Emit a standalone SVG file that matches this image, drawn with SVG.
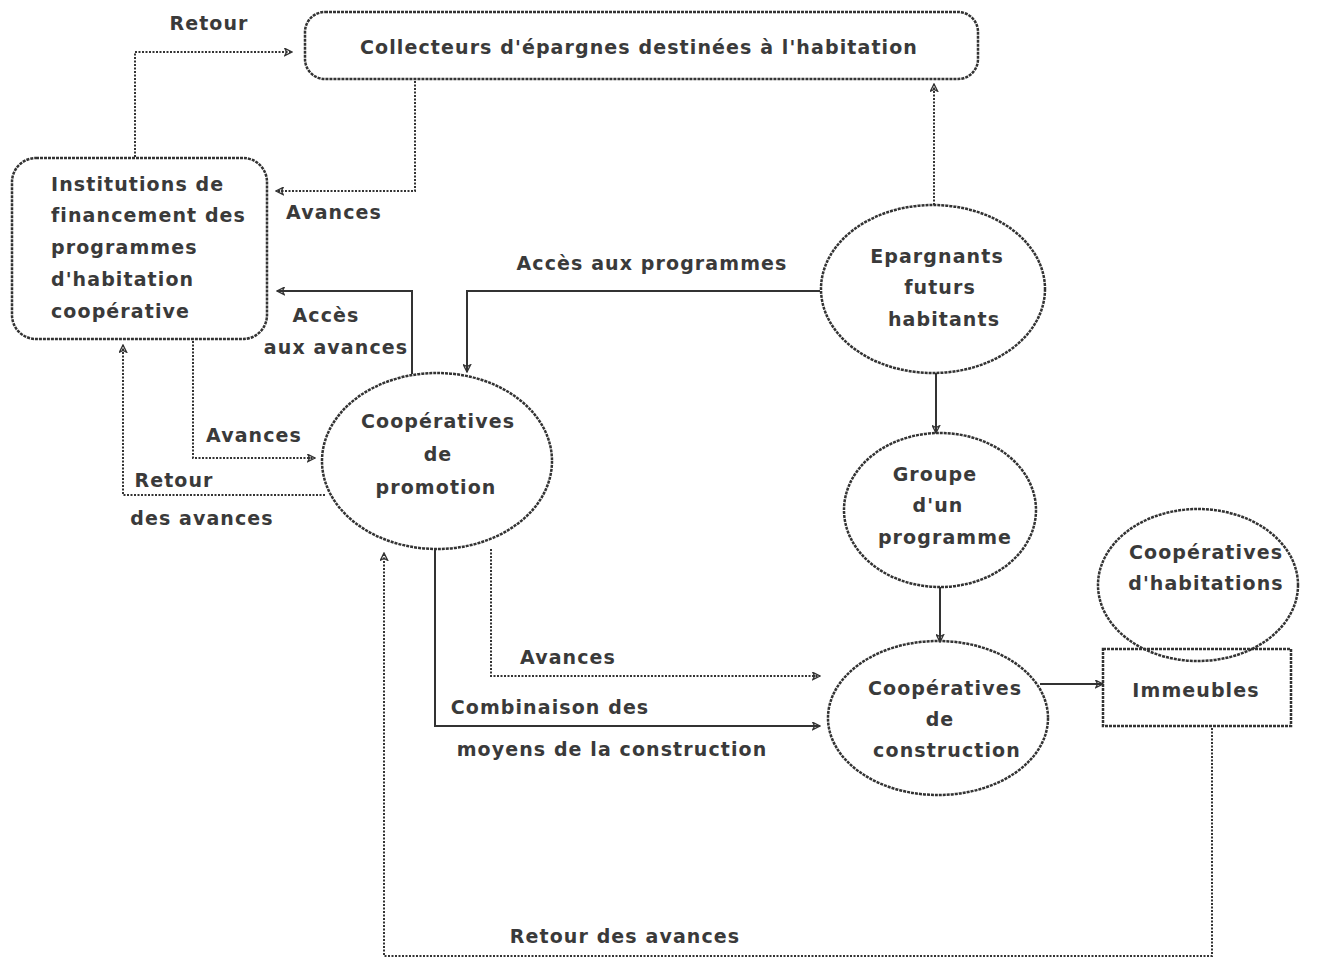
<svg xmlns="http://www.w3.org/2000/svg" width="1321" height="962" viewBox="0 0 1321 962">
<defs>
<style>
.node{fill:none;stroke:#333;stroke-width:2.5;stroke-dasharray:3 1}
.t{font-family:"DejaVu Sans","Liberation Sans",sans-serif;font-size:19px;font-weight:bold;letter-spacing:1.1px;fill:#3a3a3a;text-anchor:middle}
.tl{text-anchor:start}
.dot{fill:none;stroke:#333;stroke-width:2;stroke-dasharray:2 1.5}
.sol{fill:none;stroke:#333;stroke-width:2}
</style>
<marker id="ah" viewBox="0 0 10 10" refX="9" refY="5" markerWidth="9" markerHeight="9" markerUnits="userSpaceOnUse" orient="auto">
<path d="M1,1 L9,5 L1,9 L3,5 Z" fill="none" stroke="#333" stroke-width="1.5"/>
</marker>
</defs>
<rect width="1321" height="962" fill="#fff"/>

<g id="connectors">
<path class="dot" d="M135,157 V52 H292" marker-end="url(#ah)"/>
<path class="dot" d="M415,81 V191 H276" marker-end="url(#ah)"/>
<path class="sol" d="M412,374 V291 H277" marker-end="url(#ah)"/>
<path class="sol" d="M820,291 H467 V372" marker-end="url(#ah)"/>
<path class="dot" d="M193,341 V458 H315" marker-end="url(#ah)"/>
<path class="dot" d="M325,495 H123 V345" marker-end="url(#ah)"/>
<path class="dot" d="M934,205 V84" marker-end="url(#ah)"/>
<path class="sol" d="M936,373 V433" marker-end="url(#ah)"/>
<path class="sol" d="M940,587 V642" marker-end="url(#ah)"/>
<path class="sol" d="M435,550 V726 H820" marker-end="url(#ah)"/>
<path class="dot" d="M491,549 V676 H820" marker-end="url(#ah)"/>
<path class="sol" d="M1040,684 H1103" marker-end="url(#ah)"/>
<path class="dot" d="M1212,728 V956 H384 V553" marker-end="url(#ah)"/>
</g>

<g id="labels">
<text class="t" x="209" y="30">Retour</text>
<text class="t" x="334" y="219">Avances</text>
<text class="t" x="652" y="270">Accès aux programmes</text>
<text class="t" x="326" y="322">Accès</text>
<text class="t" x="336" y="354">aux avances</text>
<text class="t" x="254" y="442">Avances</text>
<text class="t" x="174" y="487">Retour</text>
<text class="t" x="202" y="525">des avances</text>
<text class="t" x="568" y="664">Avances</text>
<text class="t" x="550" y="714">Combinaison des</text>
<text class="t" x="612" y="756">moyens de la construction</text>
<text class="t" x="625" y="943">Retour des avances</text>
</g>

<g id="collecteurs">
<rect class="node" x="305" y="12" width="673" height="67" rx="20"/>
<text class="t" x="639" y="54" textLength="558" lengthAdjust="spacingAndGlyphs">Collecteurs d'épargnes destinées à l'habitation</text>
</g>

<g id="institutions">
<rect class="node" x="12" y="158" width="255" height="181" rx="24"/>
<text class="t tl" x="51" y="191">Institutions de</text>
<text class="t tl" x="51" y="222">financement des</text>
<text class="t tl" x="51" y="254">programmes</text>
<text class="t tl" x="51" y="286">d'habitation</text>
<text class="t tl" x="51" y="318">coopérative</text>
</g>

<g id="epargnants">
<ellipse class="node" cx="933" cy="289" rx="112" ry="84"/>
<text class="t" x="937" y="263">Epargnants</text>
<text class="t" x="940" y="294">futurs</text>
<text class="t" x="944" y="326">habitants</text>
</g>

<g id="promotion">
<ellipse class="node" cx="437" cy="461" rx="115" ry="88"/>
<text class="t" x="438" y="428">Coopératives</text>
<text class="t" x="438" y="461">de</text>
<text class="t" x="436" y="494">promotion</text>
</g>

<g id="groupe">
<ellipse class="node" cx="940" cy="510" rx="96" ry="77"/>
<text class="t" x="935" y="481">Groupe</text>
<text class="t" x="938" y="512">d'un</text>
<text class="t" x="945" y="544">programme</text>
</g>

<g id="habitations">
<ellipse class="node" cx="1198" cy="585" rx="100" ry="76"/>
<text class="t" x="1206" y="559">Coopératives</text>
<text class="t" x="1206" y="590">d'habitations</text>
</g>

<g id="immeubles">
<rect class="node" x="1103" y="649" width="188" height="77"/>
<text class="t" x="1196" y="697">Immeubles</text>
</g>

<g id="construction">
<ellipse class="node" cx="938" cy="718" rx="110" ry="77"/>
<text class="t" x="945" y="695">Coopératives</text>
<text class="t" x="940" y="726">de</text>
<text class="t" x="947" y="757">construction</text>
</g>
</svg>
